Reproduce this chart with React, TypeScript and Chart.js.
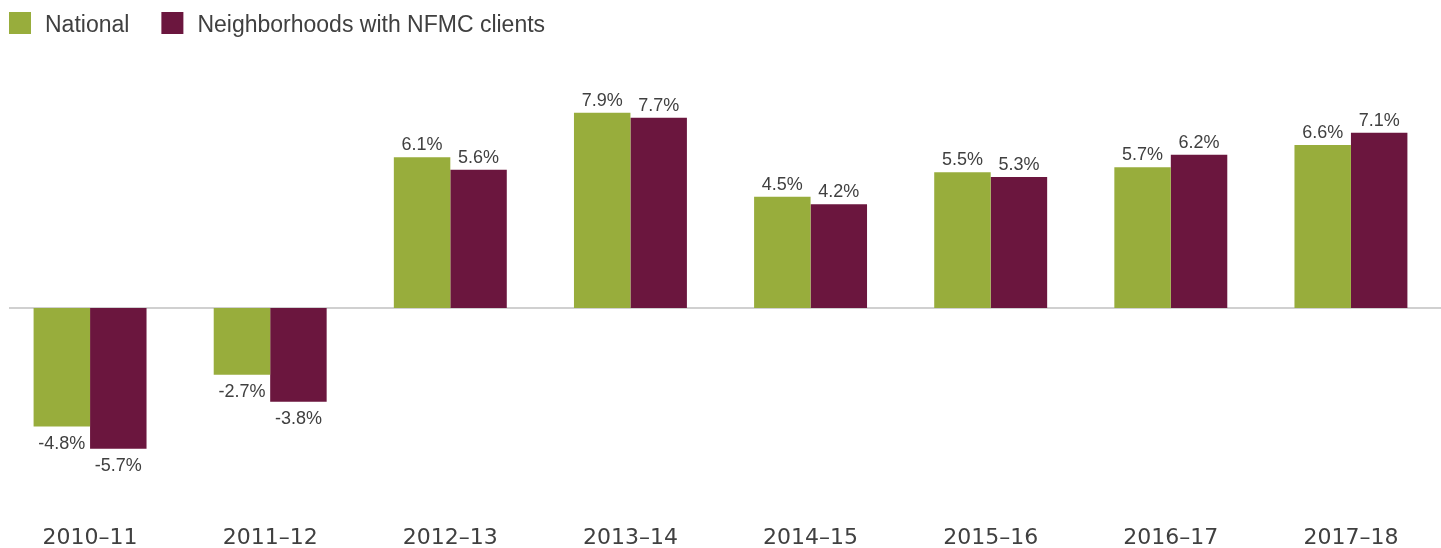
import React, { useEffect, useRef } from "react";
import { Chart, registerables } from "chart.js";

Chart.register(...registerables);

const categories = ["2010–11", "2011–12", "2012–13", "2013–14", "2014–15", "2015–16", "2016–17", "2017–18"];
const seriesNames = ["National", "Neighborhoods with NFMC clients"];
const nationalValues = [-4.8, -2.7, 6.1, 7.9, 4.5, 5.5, 5.7, 6.6];
const nfmcValues = [-5.7, -3.8, 5.6, 7.7, 4.2, 5.3, 6.2, 7.1];
const seriesColors = ["#98AD3C", "#6B163E"];

const TEXT = "#404040";

const legendPlugin = {
  id: "customLegend",
  afterDraw(chart: any) {
    const ctx = chart.ctx;
    ctx.save();
    ctx.font = "23px 'Liberation Sans', Arial, sans-serif";
    ctx.textBaseline = "alphabetic";
    ctx.textAlign = "left";
    let x = 9;
    chart.data.datasets.forEach((ds: any) => {
      ctx.fillStyle = ds.backgroundColor;
      ctx.fillRect(x, 12, 22, 22);
      ctx.fillStyle = TEXT;
      ctx.fillText(ds.label, x + 36, 32);
      x += 36 + ctx.measureText(ds.label).width + 32;
    });
    ctx.restore();
  },
};

const zeroLinePlugin = {
  id: "zeroLine",
  beforeDatasetsDraw(chart: any) {
    const ctx = chart.ctx;
    const y = chart.scales.y.getPixelForValue(0);
    ctx.save();
    ctx.strokeStyle = "#D0D0D0";
    ctx.lineWidth = 2;
    ctx.beginPath();
    ctx.moveTo(9, y);
    ctx.lineTo(chart.chartArea.right, y);
    ctx.stroke();
    ctx.restore();
  },
};

const dataLabelPlugin = {
  id: "dataLabels",
  afterDatasetsDraw(chart: any) {
    const ctx = chart.ctx;
    ctx.save();
    ctx.font = "18px 'Liberation Sans', Arial, sans-serif";
    ctx.fillStyle = TEXT;
    ctx.textAlign = "center";
    ctx.textBaseline = "alphabetic";
    chart.data.datasets.forEach((ds: any, di: number) => {
      const meta = chart.getDatasetMeta(di);
      meta.data.forEach((bar: any, i: number) => {
        const v = ds.data[i];
        const label = v.toFixed(1) + "%";
        if (v >= 0) {
          ctx.fillText(label, bar.x, bar.y - 7);
        } else {
          ctx.fillText(label, bar.x, bar.y + 22);
        }
      });
    });
    ctx.restore();
  },
};

export default function App() {
  const ref = useRef<HTMLCanvasElement>(null);
  useEffect(() => {
    if (!ref.current) return;
    const chart = new Chart(ref.current, {
      type: "bar",
      data: {
        labels: categories,
        datasets: [
          { label: seriesNames[0], data: nationalValues, backgroundColor: seriesColors[0] },
          { label: seriesNames[1], data: nfmcValues, backgroundColor: seriesColors[1] },
        ],
      },
      options: {
        animation: false,
        responsive: false,
        maintainAspectRatio: false,
        layout: { padding: { top: 61, left: 0, right: 0, bottom: 0 } },
        datasets: { bar: { categoryPercentage: 0.627, barPercentage: 1.0 } },
        plugins: { legend: { display: false }, tooltip: { enabled: false } },
        scales: {
          x: {
            grid: { display: false, drawTicks: false },
            border: { display: false },
            ticks: {
              color: TEXT,
              font: { family: "'DejaVu Sans', sans-serif", size: 22 },
              padding: 19,
              maxRotation: 0,
            },
            afterFit(scale: any) {
              scale.height = 42.4;
            },
          },
          y: {
            display: false,
            min: -8,
            max: 10,
          },
        },
      },
      plugins: [zeroLinePlugin, dataLabelPlugin, legendPlugin],
    });
    return () => chart.destroy();
  }, []);
  return (
    <div style={{ position: "absolute", left: 0, top: 0, width: 1441, height: 548 }}>
      <canvas ref={ref} width={1441} height={548} style={{ width: 1441, height: 548 }} />
    </div>
  );
}
